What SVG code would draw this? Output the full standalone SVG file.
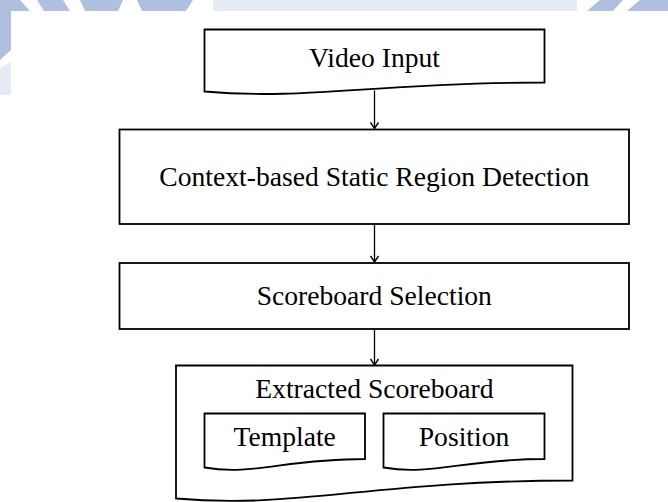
<svg xmlns="http://www.w3.org/2000/svg" width="668" height="502" viewBox="0 0 668 502">
  <style>
    .shape { fill: #ffffff; stroke: #000000; stroke-width: 1.8; stroke-linejoin: miter; }
    .label { font-family: "Liberation Serif", "Times New Roman", serif; font-size: 27.6px; fill: #000000; text-anchor: middle; }
    .link { fill: none; stroke: #000000; stroke-width: 1.3; }
    .mark { fill: #aebfe0; }
    .mark-light { fill: #e7ecf4; }
  </style>
  <defs>
    <marker id="arrow" viewBox="-7 -5 8 10" refX="0" refY="0" markerWidth="8" markerHeight="10" markerUnits="userSpaceOnUse" orient="auto">
      <path d="M-6,-4 L0,0 L-6,4" fill="none" stroke="#000000" stroke-width="1.4"/>
    </marker>
  </defs>

  <!-- page background with faint watermark along the top and left edges -->
  <g id="background">
    <rect x="0" y="0" width="668" height="502" fill="#ffffff"/>
    <polygon class="mark" points="0,0 20,0 30,11 0,11"/>
    <polygon class="mark" points="37,0 63,0 70,11 44,11"/>
    <polygon class="mark" points="80,0 123,0 118,11 85,11"/>
    <polygon class="mark" points="137,0 193,0 186,11 142,11"/>
    <polygon class="mark-light" points="213,0 577,0 577,11 213,11"/>
    <polygon class="mark" points="600,0 623,0 613,11 587,11"/>
    <polygon class="mark" points="640,0 668,0 668,11 627,11"/>
    <polygon class="mark" points="0,11 11,11 11,50 0,60"/>
    <polygon class="mark-light" points="0,68 11,62 11,95 0,95"/>
    <rect x="11" y="11" width="657" height="491" fill="#ffffff"/>
  </g>

  <!-- connectors -->
  <g id="connectors">
    <line class="link" x1="374.5" y1="90.5" x2="374.5" y2="128.5" marker-end="url(#arrow)"/>
    <line class="link" x1="374.5" y1="224" x2="374.5" y2="262" marker-end="url(#arrow)"/>
    <line class="link" x1="374.5" y1="329" x2="374.5" y2="365" marker-end="url(#arrow)"/>
  </g>

  <g id="video-input">
    <path class="shape" d="M544.5,82.5 V29.5 H204.5 V91.5 C306.5,100.5 374.5,82.5 544.5,82.5 Z"/>
    <text class="label" x="374.5" y="66.5">Video Input</text>
  </g>

  <g id="static-region-detection">
    <rect class="shape" x="119.5" y="129.5" width="509.5" height="94.5"/>
    <text class="label" x="374.3" y="186">Context-based Static Region Detection</text>
  </g>

  <g id="scoreboard-selection">
    <rect class="shape" x="119.5" y="263" width="509.5" height="66"/>
    <text class="label" x="374.3" y="305">Scoreboard Selection</text>
  </g>

  <g id="extracted-scoreboard">
    <path class="shape" d="M572.5,480.5 V365.5 H176 V498.5 C295,509.5 374,480.5 572.5,480.5 Z"/>
    <text class="label" x="374.4" y="398">Extracted Scoreboard</text>
  </g>

  <g id="template">
    <path class="shape" d="M365,459 V413.5 H204.5 V467.5 C252.5,476 284.5,459 365,459 Z"/>
    <text class="label" x="284.7" y="445.7">Template</text>
  </g>

  <g id="position">
    <path class="shape" d="M544.5,459 V413.5 H383.5 V467.5 C431.5,476 464,459 544.5,459 Z"/>
    <text class="label" x="464" y="445.7">Position</text>
  </g>
</svg>
